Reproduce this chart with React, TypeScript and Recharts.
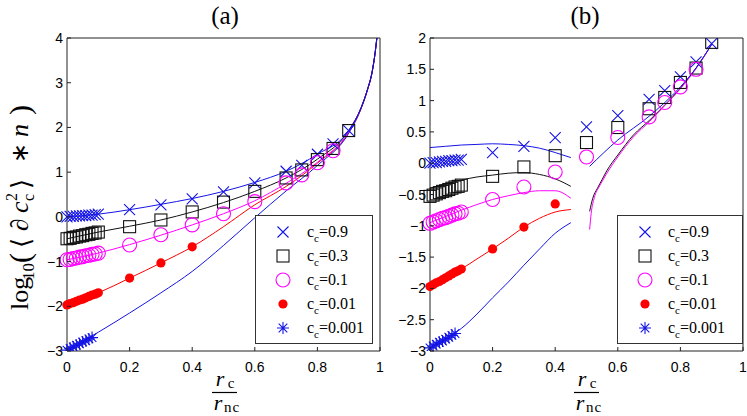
import React from "react";
import { ComposedChart, Line, Scatter, XAxis, YAxis, Legend } from "recharts";

// x positions of the samples
const xDense = [0, 0.01, 0.02, 0.03, 0.04, 0.05, 0.06, 0.07, 0.08, 0.09, 0.1];
const xStar = [0, 0.01, 0.02, 0.03, 0.04, 0.05, 0.06, 0.07, 0.08];
const xSparse = [0.2, 0.3, 0.4, 0.5, 0.6, 0.7, 0.75, 0.8, 0.85, 0.9];
const xSparseCirc = [0.2, 0.3, 0.4, 0.5, 0.6, 0.7, 0.75, 0.8, 0.85];
const xSparseDot = [0.2, 0.3, 0.4];

const ccLabels = ["0.9", "0.3", "0.1", "0.01", "0.001"];
const xTicks = [0, 0.2, 0.4, 0.6, 0.8, 1];
const yTicksA = [-3, -2, -1, 0, 1, 2, 3, 4];
const yTicksB = [-3, -2.5, -2, -1.5, -1, -0.5, 0, 0.5, 1, 1.5, 2];

// panel (a) markers
const a09Dense = [0.0, 0.01, 0.01, 0.02, 0.02, 0.03, 0.03, 0.04, 0.04, 0.05, 0.06];
const a09Sparse = [0.16, 0.27, 0.4, 0.56, 0.76, 1.02, 1.15, 1.4, 1.63, 1.93];
const a03Dense = [-0.49, -0.48, -0.46, -0.45, -0.43, -0.42, -0.4, -0.39, -0.37, -0.36, -0.34];
const a03Sparse = [-0.22, -0.07, 0.11, 0.33, 0.57, 0.87, 1.05, 1.28, 1.53, 1.93];
const a01Dense = [-0.96, -0.95, -0.93, -0.92, -0.9, -0.89, -0.87, -0.86, -0.84, -0.83, -0.81];
const a01Sparse = [-0.63, -0.4, -0.18, 0.07, 0.34, 0.76, 0.94, 1.21, 1.48];
const a001Dense = [-1.97, -1.94, -1.92, -1.89, -1.86, -1.84, -1.81, -1.78, -1.75, -1.73, -1.7];
const a001Sparse = [-1.37, -1.03, -0.67];
const a0001Star = [-2.98, -2.94, -2.91, -2.87, -2.84, -2.8, -2.77, -2.73, -2.7];

// panel (a) curves
const xLineA = [0, 0.1, 0.2, 0.3, 0.4, 0.5, 0.6, 0.7, 0.8, 0.9, 0.94, 0.96, 0.975, 0.985, 0.99];
const aL09 = [0.0, 0.06, 0.16, 0.28, 0.41, 0.57, 0.77, 1.02, 1.4, 1.93, 2.45, 2.85, 3.25, 3.7, 4.0];
const aL03 = [-0.49, -0.34, -0.21, -0.07, 0.11, 0.32, 0.57, 0.87, 1.29, 1.93, 2.45, 2.85, 3.25, 3.7, 4.0];
const aL01 = [-0.96, -0.81, -0.62, -0.41, -0.18, 0.07, 0.36, 0.75, 1.22, 1.9, 2.44, 2.84, 3.25, 3.7, 4.0];
const aL001 = [-1.97, -1.7, -1.37, -1.03, -0.67, -0.22, 0.27, 0.68, 1.2, 1.88, 2.43, 2.84, 3.24, 3.7, 4.0];
const aL0001 = [-2.98, -2.58, -2.15, -1.7, -1.22, -0.64, -0.02, 0.58, 1.15, 1.87, 2.43, 2.84, 3.24, 3.7, 4.0];

// panel (b) markers
const b09Dense = [0.0, 0.01, 0.01, 0.02, 0.03, 0.03, 0.04, 0.04, 0.05, 0.05, 0.06];
const b09Sparse = [0.17, 0.27, 0.41, 0.58, 0.76, 1.02, 1.16, 1.38, 1.62, 1.91];
const b03Dense = [-0.53, -0.51, -0.49, -0.47, -0.45, -0.44, -0.42, -0.4, -0.38, -0.37, -0.35];
const b03Sparse = [-0.21, -0.06, 0.12, 0.33, 0.57, 0.87, 1.05, 1.29, 1.52, 1.93];
const b01Dense = [-0.96, -0.94, -0.92, -0.9, -0.88, -0.87, -0.85, -0.83, -0.81, -0.8, -0.78];
const b01Sparse = [-0.58, -0.38, -0.14, 0.1, 0.41, 0.74, 0.97, 1.22, 1.5];
const b001Dense = [-1.97, -1.94, -1.91, -1.89, -1.86, -1.83, -1.8, -1.77, -1.74, -1.72, -1.69];
const b001Sparse = [-1.37, -1.02, -0.65];
const b0001Star = [-2.95, -2.92, -2.89, -2.86, -2.84, -2.81, -2.78, -2.75, -2.72];

// panel (b) curves, left branch
const xLineBL = [0, 0.05, 0.1, 0.15, 0.2, 0.25, 0.3, 0.35, 0.4, 0.45];
const bL09 = [0.25, 0.27, 0.29, 0.3, 0.31, 0.3, 0.28, 0.24, 0.17, 0.09];
const bL03 = [-0.4, -0.33, -0.27, -0.22, -0.19, -0.16, -0.15, -0.18, -0.25, -0.37];
const bL01 = [-0.95, -0.85, -0.75, -0.66, -0.58, -0.52, -0.47, -0.44, -0.44, -0.56];
const bL001 = [-1.97, -1.83, -1.69, -1.53, -1.37, -1.2, -1.02, -0.88, -0.78, -0.74];
const bL0001 = [-2.95, -2.8, -2.64, -2.41, -2.15, -1.9, -1.63, -1.37, -1.12, -0.95];

// panel (b) curves, right branch
const xLineB09R = [0.51, 0.6, 0.7, 0.8, 0.85, 0.9];
const bR09 = [-0.05, 0.37, 0.75, 1.22, 1.52, 1.9];
const xLineB03R = [0.51, 0.52, 0.535, 0.55, 0.565, 0.6, 0.65, 0.7, 0.75, 0.8, 0.85, 0.9];
const bR03 = [-0.77, -0.56, -0.4, -0.26, -0.12, 0.13, 0.45, 0.68, 0.93, 1.2, 1.52, 1.9];
const xLineB01R = [0.51, 0.515, 0.525, 0.54, 0.55, 0.565, 0.6, 0.65, 0.7, 0.75, 0.8, 0.85, 0.9];
const bR01 = [-1.06, -0.8, -0.55, -0.38, -0.29, -0.16, 0.1, 0.42, 0.66, 0.92, 1.19, 1.51, 1.9];

type Pt = { x: number; y: number };
const zip = (xs: number[], ys: number[]): Pt[] => xs.map((x, i) => ({ x, y: ys[i] }));

const BLUE = "#1414e6";
const BLACK = "#111";
const MAG = "#ff00ff";
const RED = "#ff0000";

type Kind = "x" | "sq" | "o" | "dot" | "star";
const kinds: Kind[] = ["x", "sq", "o", "dot", "star"];
const kindColors = [BLUE, BLACK, MAG, RED, BLUE];

function Marker({ kind, cx, cy, color }: { kind: Kind; cx?: number; cy?: number; color: string }) {
  if (cx == null || cy == null) return null;
  const sw = 1.1;
  if (kind === "x") {
    const s = 5.5;
    return (
      <path
        d={`M${cx - s},${cy - s}L${cx + s},${cy + s}M${cx - s},${cy + s}L${cx + s},${cy - s}`}
        stroke={color}
        strokeWidth={sw}
        fill="none"
      />
    );
  }
  if (kind === "sq") {
    return <rect x={cx - 6} y={cy - 6} width={12} height={12} stroke={color} strokeWidth={sw} fill="none" />;
  }
  if (kind === "o") {
    return <circle cx={cx} cy={cy} r={7} stroke={color} strokeWidth={sw} fill="none" />;
  }
  if (kind === "dot") {
    return <circle cx={cx} cy={cy} r={4.6} fill={color} />;
  }
  const s = 6;
  const d = 4.3;
  return (
    <path
      d={`M${cx - s},${cy}L${cx + s},${cy}M${cx},${cy - s}L${cx},${cy + s}M${cx - d},${cy - d}L${cx + d},${cy + d}M${cx - d},${cy + d}L${cx + d},${cy - d}`}
      stroke={color}
      strokeWidth={sw}
      fill="none"
    />
  );
}

const fmt = (v: number) => (v < 0 ? "\u2212" + String(-v) : String(v));
const TICK_FONT = "'Liberation Sans', Arial, sans-serif";

type Box = { left: number; right: number; top: number; bottom: number };

const bottomTick = (b: Box) => (p: any) => (
  <g>
    <line x1={p.x} x2={p.x} y1={b.bottom} y2={b.bottom - 4} stroke="#222" />
    <text x={p.x} y={b.bottom + 21} textAnchor="middle" fontSize={14} fontFamily={TICK_FONT} fill="#000">
      {fmt(p.payload.value)}
    </text>
  </g>
);
const leftTick = (b: Box) => (p: any) => (
  <g>
    <line x1={b.left} x2={b.left + 4} y1={p.y} y2={p.y} stroke="#222" />
    <text x={b.left - 4} y={p.y + 5} textAnchor="end" fontSize={14} fontFamily={TICK_FONT} fill="#000">
      {fmt(p.payload.value)}
    </text>
  </g>
);
const topTick = (b: Box) => (p: any) => <line x1={p.x} x2={p.x} y1={b.top} y2={b.top + 4} stroke="#222" />;
const rightTick = (b: Box) => (p: any) => <line x1={b.right} x2={b.right - 4} y1={p.y} y2={p.y} stroke="#222" />;

function LegendBox({ w, h, mx, tx }: { w: number; h: number; mx: number; tx: number }) {
  return (
    <svg width={w} height={h} style={{ display: "block" }}>
      <rect x={0.5} y={0.5} width={w - 1} height={h - 1} fill="#fff" stroke="#333" />
      {ccLabels.map((c, i) => {
        const cy = 17 + i * 24;
        return (
          <g key={c}>
            <Marker kind={kinds[i]} cx={mx} cy={cy} color={kindColors[i]} />
            <text x={tx} y={cy + 5} fontSize={16} fontFamily="'Liberation Serif', 'Times New Roman', serif" fill="#000">
              c
              <tspan fontSize={11} dy={5}>
                c
              </tspan>
              <tspan dy={-5}>={c}</tspan>
            </text>
          </g>
        );
      })}
    </svg>
  );
}

type Series = { kind: Kind; color: string; data: Pt[] };
type Curve = { color: string; data: Pt[] };

function Panel({
  left,
  width,
  yAxisW,
  rightW,
  yDomain,
  yTicks,
  curves,
  markers,
  legendPos,
}: {
  left: number;
  width: number;
  yAxisW: number;
  rightW: number;
  yDomain: [number, number];
  yTicks: number[];
  curves: Curve[];
  markers: Series[];
  legendPos: { left: number; top: number; w: number; h: number; mx: number; tx: number };
}) {
  const height = 416;
  const box: Box = { left: yAxisW, right: width - rightW, top: 38, bottom: 351 };
  return (
    <div style={{ position: "absolute", left, top: 0 }}>
      <ComposedChart width={width} height={height} margin={{ top: 8, right: 0, bottom: 40, left: 0 }}>
        <XAxis
          dataKey="x"
          type="number"
          domain={[0, 1]}
          ticks={xTicks}
          height={25}
          axisLine={{ stroke: "#222" }}
          tickLine={false}
          tick={bottomTick(box)}
          interval={0}
        />
        <XAxis
          xAxisId="top"
          orientation="top"
          type="number"
          domain={[0, 1]}
          ticks={xTicks}
          height={30}
          axisLine={{ stroke: "#222" }}
          tickLine={false}
          tick={topTick(box)}
          interval={0}
        />
        <YAxis
          dataKey="y"
          type="number"
          domain={yDomain}
          ticks={yTicks}
          width={yAxisW}
          axisLine={{ stroke: "#222" }}
          tickLine={false}
          tick={leftTick(box)}
          interval={0}
          allowDataOverflow
        />
        <YAxis
          yAxisId="right"
          orientation="right"
          type="number"
          domain={yDomain}
          ticks={yTicks}
          width={rightW}
          axisLine={{ stroke: "#222" }}
          tickLine={false}
          tick={rightTick(box)}
          interval={0}
        />
        {curves.map((c, i) => (
          <Line
            key={"l" + i}
            data={c.data}
            dataKey="y"
            type="monotone"
            stroke={c.color}
            strokeWidth={1}
            dot={false}
            activeDot={false}
            legendType="none"
            isAnimationActive={false}
          />
        ))}
        {markers.map((m, i) => (
          <Scatter
            key={"s" + i}
            data={m.data}
            dataKey="y"
            legendType="none"
            isAnimationActive={false}
            shape={(p: any) => <Marker kind={m.kind} cx={p.cx} cy={p.cy} color={m.color} />}
          />
        ))}
        <Legend
          layout="vertical"
          align="center"
          verticalAlign="middle"
          wrapperStyle={{ left: legendPos.left, top: legendPos.top, width: legendPos.w, height: legendPos.h }}
          content={() => <LegendBox w={legendPos.w} h={legendPos.h} mx={legendPos.mx} tx={legendPos.tx} />}
        />
      </ComposedChart>
    </div>
  );
}

const SERIF = "'Liberation Serif', 'Times New Roman', serif";

function Fraction({ cx }: { cx: number }) {
  return (
    <g fontFamily={SERIF} fill="#000">
      <text x={cx - 4} y={386} fontSize={22} fontStyle="italic" textAnchor="middle">
        r
      </text>
      <text x={cx + 7} y={388} fontSize={15} textAnchor="middle">
        c
      </text>
      <line x1={cx - 12} x2={cx + 13} y1={392.5} y2={392.5} stroke="#000" strokeWidth={1.2} />
      <text x={cx - 6} y={410} fontSize={22} fontStyle="italic" textAnchor="middle">
        r
      </text>
      <text x={cx + 8} y={412} fontSize={15} textAnchor="middle" letterSpacing={1}>
        nc
      </text>
    </g>
  );
}

function YLabel() {
  // rotated label: screen y = -u, screen x = 28 + v
  const piece = (u: number, txt: string, size: number, v = 0, italic = false, family = SERIF) => (
    <text x={-u} y={v} fontSize={size} fontFamily={family} fontStyle={italic ? "italic" : "normal"} fill="#000">
      {txt}
    </text>
  );
  return (
    <g transform="translate(28,0) rotate(-90)">
      {piece(310, "log", 26)}
      {piece(280, "10", 17, 6)}
      {piece(263, "(", 30, 2)}
      {piece(248, "\u27e8", 26, 2, false, "'DejaVu Serif', serif")}
      {piece(231, "\u2202", 25, 0, true)}
      {piece(213, "c", 26, 0, true)}
      {piece(201, "2", 16, -11)}
      {piece(201, "c", 16, 6)}
      {piece(189, "\u27e9", 26, 2, false, "'DejaVu Serif', serif")}
      {piece(163, "\u2217", 24, 0, false, "'DejaVu Sans', sans-serif")}
      {piece(137, "n", 26, 0, true)}
      {piece(115, ")", 30, 2)}
    </g>
  );
}

const marksA: Series[] = [
  { kind: "x", color: BLUE, data: [...zip(xDense, a09Dense), ...zip(xSparse, a09Sparse)] },
  { kind: "sq", color: BLACK, data: [...zip(xDense, a03Dense), ...zip(xSparse, a03Sparse)] },
  { kind: "o", color: MAG, data: [...zip(xDense, a01Dense), ...zip(xSparseCirc, a01Sparse)] },
  { kind: "dot", color: RED, data: [...zip(xDense, a001Dense), ...zip(xSparseDot, a001Sparse)] },
  { kind: "star", color: BLUE, data: zip(xStar, a0001Star) },
];
const curvesA: Curve[] = [
  { color: RED, data: zip(xLineA, aL001) },
  { color: BLUE, data: zip(xLineA, aL0001) },
  { color: MAG, data: zip(xLineA, aL01) },
  { color: BLACK, data: zip(xLineA, aL03) },
  { color: BLUE, data: zip(xLineA, aL09) },
];

const marksB: Series[] = [
  { kind: "x", color: BLUE, data: [...zip(xDense, b09Dense), ...zip(xSparse, b09Sparse)] },
  { kind: "sq", color: BLACK, data: [...zip(xDense, b03Dense), ...zip(xSparse, b03Sparse)] },
  { kind: "o", color: MAG, data: [...zip(xDense, b01Dense), ...zip(xSparseCirc, b01Sparse)] },
  { kind: "dot", color: RED, data: [...zip(xDense, b001Dense), ...zip(xSparseDot, b001Sparse)] },
  { kind: "star", color: BLUE, data: zip(xStar, b0001Star) },
];
const curvesB: Curve[] = [
  { color: BLUE, data: zip(xLineBL, bL09) },
  { color: BLACK, data: zip(xLineBL, bL03) },
  { color: MAG, data: zip(xLineBL, bL01) },
  { color: RED, data: zip(xLineBL, bL001) },
  { color: BLUE, data: zip(xLineBL, bL0001) },
  { color: BLACK, data: zip(xLineB03R, bR03) },
  { color: MAG, data: zip(xLineB01R, bR01) },
  { color: BLUE, data: zip(xLineB09R, bR09) },
];

export default function App() {
  return (
    <div style={{ position: "absolute", left: 0, top: 0, width: 747, height: 416, background: "#fff", overflow: "hidden" }}>
      <Panel
        left={0}
        width={390}
        yAxisW={67}
        rightW={10}
        yDomain={[-3, 4]}
        yTicks={yTicksA}
        curves={curvesA}
        markers={marksA}
        legendPos={{ left: 255, top: 215, w: 118, h: 129, mx: 28, tx: 52 }}
      />
      <Panel
        left={360}
        width={387}
        yAxisW={70}
        rightW={4}
        yDomain={[-3, 2]}
        yTicks={yTicksB}
        curves={curvesB}
        markers={marksB}
        legendPos={{ left: 257, top: 215, w: 126, h: 129, mx: 28, tx: 51 }}
      />
      <svg width={747} height={416} style={{ position: "absolute", left: 0, top: 0, pointerEvents: "none" }}>
        <text x={225} y={24} textAnchor="middle" fontSize={25} fontFamily={SERIF} fill="#000">
          (a)
        </text>
        <text x={585} y={24} textAnchor="middle" fontSize={25} fontFamily={SERIF} fill="#000">
          (b)
        </text>
        <YLabel />
        <Fraction cx={224} />
        <Fraction cx={586} />
      </svg>
    </div>
  );
}
